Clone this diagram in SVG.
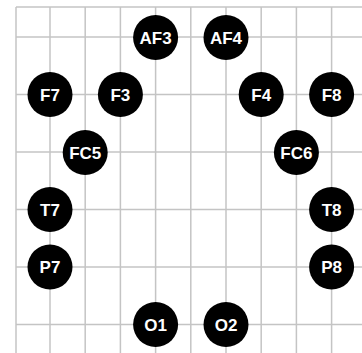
<svg xmlns="http://www.w3.org/2000/svg" width="362" height="353" viewBox="0 0 362 353">
<style>
.grid line{stroke:#c4c4c4;stroke-width:1.5}
.node circle{fill:#000}
.node text{fill:#fff;font-family:"Liberation Sans",Arial,sans-serif;font-weight:bold;font-size:17px;text-anchor:middle}
</style>
<rect width="362" height="353" fill="#fff"/>
<g class="grid">
<line x1="16" y1="7" x2="362" y2="7"/>
<line x1="16" y1="37" x2="362" y2="37"/>
<line x1="16" y1="94.5" x2="362" y2="94.5"/>
<line x1="16" y1="152" x2="362" y2="152"/>
<line x1="16" y1="209.5" x2="362" y2="209.5"/>
<line x1="16" y1="267" x2="362" y2="267"/>
<line x1="16" y1="324.5" x2="362" y2="324.5"/>
<line x1="16" y1="7" x2="16" y2="353"/>
<line x1="50" y1="7" x2="50" y2="353"/>
<line x1="85.2" y1="7" x2="85.2" y2="353"/>
<line x1="120.4" y1="7" x2="120.4" y2="353"/>
<line x1="155.6" y1="7" x2="155.6" y2="353"/>
<line x1="190.8" y1="7" x2="190.8" y2="353"/>
<line x1="226" y1="7" x2="226" y2="353"/>
<line x1="261.2" y1="7" x2="261.2" y2="353"/>
<line x1="296.4" y1="7" x2="296.4" y2="353"/>
<line x1="331.6" y1="7" x2="331.6" y2="353"/>
</g>
<g id="connectors"></g>
<g id="AF3" class="node"><circle cx="155.6" cy="37.5" r="22.5"/><text x="155.6" y="43.6">AF3</text></g>
<g id="AF4" class="node"><circle cx="226" cy="37.5" r="22.5"/><text x="226" y="43.6">AF4</text></g>
<g id="F7" class="node"><circle cx="50" cy="94.5" r="22.5"/><text x="50" y="100.6">F7</text></g>
<g id="F3" class="node"><circle cx="120.4" cy="94.5" r="22.5"/><text x="120.4" y="100.6">F3</text></g>
<g id="F4" class="node"><circle cx="261.2" cy="94.5" r="22.5"/><text x="261.2" y="100.6">F4</text></g>
<g id="F8" class="node"><circle cx="331.6" cy="94.5" r="22.5"/><text x="331.6" y="100.6">F8</text></g>
<g id="FC5" class="node"><circle cx="85.2" cy="152.5" r="22.5"/><text x="85.2" y="158.6">FC5</text></g>
<g id="FC6" class="node"><circle cx="296.4" cy="152.5" r="22.5"/><text x="296.4" y="158.6">FC6</text></g>
<g id="T7" class="node"><circle cx="50" cy="209.5" r="22.5"/><text x="50" y="215.6">T7</text></g>
<g id="T8" class="node"><circle cx="331.6" cy="209.5" r="22.5"/><text x="331.6" y="215.6">T8</text></g>
<g id="P7" class="node"><circle cx="50" cy="267" r="22.5"/><text x="50" y="273.1">P7</text></g>
<g id="P8" class="node"><circle cx="331.6" cy="267" r="22.5"/><text x="331.6" y="273.1">P8</text></g>
<g id="O1" class="node"><circle cx="155.6" cy="324.5" r="22.5"/><text x="155.6" y="330.6">O1</text></g>
<g id="O2" class="node"><circle cx="226" cy="324.5" r="22.5"/><text x="226" y="330.6">O2</text></g>
</svg>
